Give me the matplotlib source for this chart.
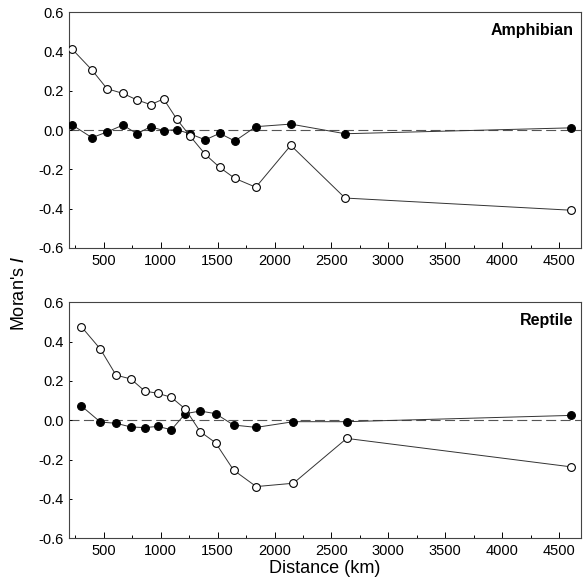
import numpy as np
import matplotlib; matplotlib.use("Agg")
import matplotlib.pyplot as plt
from matplotlib.ticker import MultipleLocator

plt.rcParams["font.family"] = ["Liberation Sans", "DejaVu Sans"]

# ── Veri ─────────────────────────────────────────────────────────────────────
amph_dist   = [225, 397, 529, 669, 792, 912, 1026, 1143, 1260, 1392, 1518, 1652, 1836, 2143, 2620, 4608]
amph_open   = [0.41, 0.305, 0.21, 0.186, 0.153, 0.129, 0.158, 0.054, -0.032, -0.124, -0.19, -0.246,
               -0.291, -0.078, -0.346, -0.408]
amph_filled = [0.025, -0.039, -0.010, 0.025, -0.019, 0.017, -0.003, 0.002, -0.02, -0.05, -0.017,
               -0.056, 0.017, 0.030, -0.019, 0.011]

rept_dist   = [304, 471, 608, 739, 860, 976, 1094, 1217, 1348, 1482, 1640, 1839, 2166, 2634, 4608]
rept_open   = [0.476, 0.362, 0.230, 0.210, 0.149, 0.137, 0.117, 0.057, -0.058, -0.114, -0.253,
               -0.337, -0.320, -0.092, -0.237]
rept_filled = [0.073, -0.009, -0.015, -0.034, -0.037, -0.031, -0.048, 0.034, 0.047, 0.034, -0.024,
               -0.036, -0.007, -0.007, 0.025]

panels = [("Amphibian", amph_dist, amph_open, amph_filled),
          ("Reptile",   rept_dist, rept_open, rept_filled)]

fig = plt.figure(figsize=(5.87, 5.86), dpi=100)
ax_top = fig.add_axes([0.1175, 0.5768, 0.872, 0.4027])
ax_bot = fig.add_axes([0.1175, 0.0814, 0.872, 0.4027])

for ax, (name, dist, op, fi) in zip([ax_top, ax_bot], panels):
    ax.axhline(0, color="#555555", lw=0.8, ls=(0, (9, 4)), zorder=1)
    ax.plot(dist, fi, "-o", color="#333333", lw=0.7, ms=5.6,
            mfc="black", mec="black", mew=0.8, zorder=3)
    ax.plot(dist, op, "-o", color="#333333", lw=0.7, ms=5.6,
            mfc="white", mec="black", mew=0.8, zorder=4)
    ax.set_xlim(195, 4690)
    ax.set_ylim(-0.6, 0.6)
    ax.xaxis.set_major_locator(MultipleLocator(500))
    ax.xaxis.set_minor_locator(MultipleLocator(250))
    ax.yaxis.set_major_locator(MultipleLocator(0.2))
    ax.set_xticks(np.arange(500, 4501, 500))
    ax.set_yticklabels([f"{v:.1f}" for v in ax.get_yticks()])
    ax.tick_params(axis="x", which="major", direction="in", length=4, width=0.7, labelsize=10.5, pad=4)
    ax.tick_params(axis="x", which="minor", direction="in", length=2.5, width=0.7)
    ax.tick_params(axis="y", direction="in", length=2, width=0.7, labelsize=10.5, pad=4)
    for sp in ax.spines.values():
        sp.set_linewidth(0.8)
        sp.set_color("#444444")
    ax.text(0.985, 0.955, name, transform=ax.transAxes, ha="right", va="top",
            fontsize=11.5, fontweight="bold")

fig.text(0.034, 0.5, "Moran's $\\mathit{I}$", rotation=90, ha="center", va="center", fontsize=13)
fig.text(0.553, 0.03, "Distance (km)", ha="center", va="center", fontsize=13)

fig.savefig("out.png", dpi=100)
plt.close(fig)
